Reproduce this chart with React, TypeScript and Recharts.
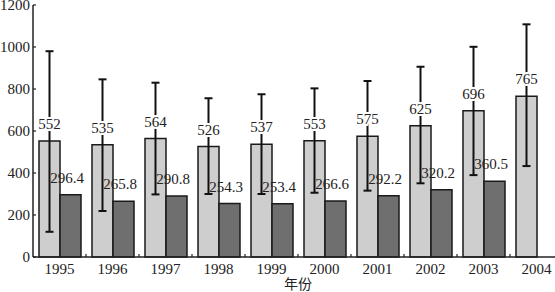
import { BarChart, Bar, XAxis, YAxis, ErrorBar, LabelList } from "recharts";

const years = ["1995", "1996", "1997", "1998", "1999", "2000", "2001", "2002", "2003", "2004"];
const totalValues = [552, 535, 564, 526, 537, 553, 575, 625, 696, 765];
const totalErrLow = [432, 316, 266, 226, 237, 247, 259, 274, 306, 332];
const totalErrHigh = [428, 311, 266, 230, 238, 250, 263, 281, 305, 343];
const partValues: (number | null)[] = [296.4, 265.8, 290.8, 254.3, 253.4, 266.6, 292.2, 320.2, 360.5, null];
const yTicks = [0, 200, 400, 600, 800, 1000, 1200];

const data = years.map((year, i) => ({
  year,
  total: totalValues[i],
  err: [totalErrLow[i], totalErrHigh[i]],
  part: partValues[i],
}));

const textStyle = { fontFamily: "Liberation Serif, DejaVu Serif, serif", fontSize: 15 };
const SLOT = 53;

function TotalLabel({ x, y, width, value }: any) {
  return (
    <text
      x={x + width / 2} y={y - 17}
      textAnchor="middle" dominantBaseline="central"
      style={textStyle} fill="#222"
      stroke="#fff" strokeWidth={4} paintOrder="stroke"
    >
      {value}
    </text>
  );
}

function PartLabel({ x, y, value }: any) {
  if (value == null) return null;
  return (
    <text
      x={x + 7} y={y - 17}
      textAnchor="middle" dominantBaseline="central"
      style={textStyle} fill="#222"
    >
      {value}
    </text>
  );
}

function YearTick({ x, y, index, payload }: any) {
  return (
    <g>
      {index < years.length - 1 && (
        <line x1={x + SLOT / 2} x2={x + SLOT / 2} y1={y} y2={y - 3} stroke="#222" strokeWidth={1.2} />
      )}
      <text x={x} y={y + 12} textAnchor="middle" dominantBaseline="central" style={textStyle} fill="#222">
        {payload.value}
      </text>
    </g>
  );
}

function ValueTick({ x, y, payload }: any) {
  return (
    <g>
      <line x1={x} x2={x + 3} y1={y} y2={y} stroke="#222" strokeWidth={1.2} />
      <text x={x - 3} y={y} textAnchor="end" dominantBaseline="central" style={textStyle} fill="#222">
        {payload.value}
      </text>
    </g>
  );
}

export default function App() {
  return (
    <div style={{ position: "absolute", left: 0, top: 0, width: 555, height: 292, overflow: "hidden", background: "#fff" }}>
      <BarChart
        width={570}
        height={292}
        data={data}
        margin={{ top: 5, right: 7, bottom: 0, left: 0 }}
        barGap={0}
        barSize={21}
      >
        <XAxis
          dataKey="year"
          height={35}
          tickSize={0}
          tickMargin={0}
          tickLine={false}
          axisLine={{ stroke: "#222", strokeWidth: 1.5 }}
          tick={<YearTick />}
          interval={0}
          label={{ value: "年份", position: "insideBottom", offset: 0, dy: -3, fontSize: 14, fill: "#222", fontFamily: "Noto Sans CJK SC, sans-serif" }}
        />
        <YAxis
          width={33}
          domain={[0, 1200]}
          ticks={yTicks}
          tickSize={0}
          tickMargin={0}
          tickLine={false}
          axisLine={{ stroke: "#222", strokeWidth: 1.5 }}
          tick={<ValueTick />}
          interval={0}
        />
        <Bar dataKey="total" fill="#cecece" stroke="#1a1a1a" strokeWidth={1.5} isAnimationActive={false}>
          <ErrorBar dataKey="err" width={4} stroke="#111" strokeWidth={2} direction="y" />
          <LabelList dataKey="total" content={<TotalLabel />} />
        </Bar>
        <Bar dataKey="part" fill="#6f6f6f" stroke="#1a1a1a" strokeWidth={1.5} isAnimationActive={false}>
          <LabelList dataKey="part" content={<PartLabel />} />
        </Bar>
      </BarChart>
    </div>
  );
}
